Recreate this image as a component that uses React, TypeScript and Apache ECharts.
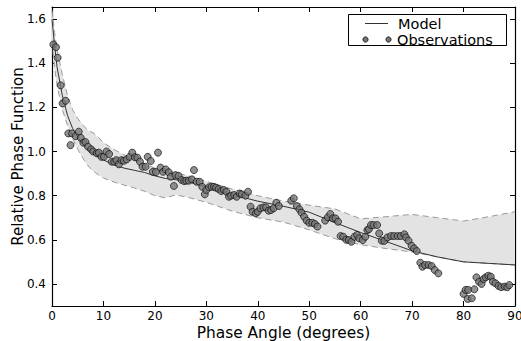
import React, { useEffect, useRef } from "react";
import * as echarts from "echarts";

const obsX = [0.26,0.78,1.1,1.7,2.07,2.65,3.17,3.6,3.9,4.6,5.2,5.6,6.1,6.5,7.0,7.6,8.0,8.7,9.1,9.6,10.1,10.6,11.1,11.6,12.1,12.5,13.0,13.5,13.96,14.5,15.1,15.6,16.1,16.6,17.1,17.6,18.2,18.6,19.2,19.6,20.2,20.6,21.1,21.6,22.1,22.7,23.1,23.7,24.0,24.6,25.2,25.7,26.1,26.6,27.2,27.6,28.1,28.7,29.2,29.7,30.0,30.5,31.0,31.5,31.9,32.4,32.9,33.4,33.9,34.4,34.8,35.4,35.9,36.5,36.9,37.6,38.1,38.6,39.0,39.6,40.0,40.5,41.1,41.6,42.1,42.6,43.1,43.6,44.1,46.5,47.0,47.6,48.1,48.5,49.0,49.5,50.0,50.6,51.1,51.6,53.1,53.6,54.1,54.6,55.1,55.6,56.1,56.6,57.2,57.7,58.2,58.8,59.3,59.7,60.4,60.9,61.3,61.6,62.0,62.5,63.2,63.6,64.1,64.6,65.2,65.9,66.5,67.2,67.8,68.5,68.8,69.3,69.9,70.4,70.9,71.6,72.0,72.5,73.2,73.8,74.4,75.1,80.0,80.4,80.8,80.9,81.6,82.1,82.5,83.0,83.5,83.9,84.3,84.8,85.3,85.7,86.2,86.8,87.3,88.0,88.5,88.9];
const obsY = [1.485,1.473,1.425,1.30,1.218,1.23,1.082,1.029,1.082,1.07,1.09,1.062,1.04,1.043,1.022,1.01,1.0,0.992,0.995,0.976,0.976,1.0,0.989,0.954,0.954,0.961,0.942,0.961,0.958,0.964,0.976,0.995,0.974,0.972,0.954,0.931,0.931,0.976,0.957,0.908,0.907,0.995,0.927,0.908,0.919,0.906,0.886,0.844,0.893,0.890,0.871,0.866,0.868,0.868,0.874,0.916,0.863,0.863,0.840,0.806,0.826,0.838,0.840,0.840,0.836,0.830,0.821,0.826,0.818,0.795,0.800,0.803,0.795,0.81,0.806,0.80,0.818,0.75,0.727,0.72,0.727,0.743,0.747,0.747,0.732,0.735,0.743,0.768,0.753,0.777,0.788,0.753,0.738,0.723,0.705,0.687,0.677,0.677,0.672,0.66,0.687,0.702,0.717,0.697,0.697,0.682,0.617,0.614,0.60,0.599,0.591,0.614,0.622,0.607,0.599,0.614,0.644,0.648,0.667,0.667,0.667,0.629,0.596,0.595,0.611,0.617,0.617,0.617,0.617,0.625,0.611,0.596,0.573,0.561,0.549,0.496,0.478,0.486,0.486,0.481,0.463,0.448,0.355,0.373,0.332,0.373,0.335,0.376,0.43,0.41,0.40,0.422,0.43,0.437,0.433,0.41,0.403,0.391,0.385,0.388,0.385,0.395];

const gridX = [0,0.5,1,2,3,4,5,6,7,8,9,10,12,14,16,18,20,22,24,26,30,35,40,45,50,55,60,65,70,75,80,85,90];
const modelY = [1.60,1.48,1.38,1.255,1.165,1.105,1.065,1.035,1.01,0.99,0.975,0.962,0.94,0.925,0.915,0.905,0.89,0.878,0.872,0.866,0.84,0.805,0.775,0.752,0.725,0.678,0.633,0.592,0.55,0.522,0.50,0.493,0.486];
const upperY = [1.64,1.54,1.46,1.35,1.255,1.19,1.15,1.12,1.095,1.085,1.065,1.04,1.01,0.985,0.965,0.945,0.925,0.912,0.903,0.893,0.865,0.83,0.80,0.775,0.757,0.74,0.695,0.705,0.715,0.70,0.685,0.705,0.727];
const lowerY = [1.50,1.38,1.30,1.19,1.12,1.06,1.01,0.97,0.935,0.912,0.895,0.88,0.862,0.848,0.835,0.82,0.80,0.79,0.803,0.795,0.77,0.73,0.70,0.68,0.645,0.605,0.578,0.56,0.545,0.522,0.50,0.493,0.486];

const xTicks = [0,10,20,30,40,50,60,70,80,90];
const yTicks = [0.4,0.6,0.8,1.0,1.2,1.4,1.6];

const FONT = "DejaVu Sans";

export default function App() {
  const ref = useRef<HTMLDivElement>(null);
  useEffect(() => {
    if (!ref.current) return;
    const chart = echarts.init(ref.current, null, { renderer: "svg" });
    const pairs = (xs: number[], ys: number[]) => xs.map((x, i) => [x, ys[i]]);
    const axisCommon = {
      axisLine: { show: true, onZero: false, lineStyle: { color: "#000", width: 1.2 } },
      axisTick: { show: true, inside: true, length: 5, lineStyle: { color: "#000", width: 1 } },
      splitLine: { show: false },
    };
    chart.setOption({
      animation: false,
      backgroundColor: "#fff",
      grid: { left: 52, right: 6, top: 7, bottom: 35, containLabel: false, outerBoundsMode: "none" },
      xAxis: [
        {
          type: "value", min: 0, max: 90, interval: 10, position: "bottom",
          ...axisCommon,
          axisTick: { ...axisCommon.axisTick, customValues: xTicks },
          axisLabel: { color: "#000", fontFamily: FONT, fontSize: 12, margin: 4, customValues: xTicks, hideOverlap: false },
          name: "Phase Angle (degrees)", nameLocation: "middle", nameGap: 19, nameMoveOverlap: false,
          nameTextStyle: { color: "#000", fontFamily: FONT, fontSize: 15.4 },
        },
        {
          type: "value", min: 0, max: 90, interval: 10, position: "top",
          ...axisCommon, axisLabel: { show: false },
        },
      ],
      yAxis: [
        {
          type: "value", min: 0.3, max: 1.655, position: "left",
          ...axisCommon,
          axisTick: { ...axisCommon.axisTick, customValues: yTicks },
          axisLabel: {
            color: "#000", fontFamily: FONT, fontSize: 12, margin: 6,
            customValues: yTicks, formatter: (v: number) => v.toFixed(1),
          },
          name: "Relative Phase Function", nameLocation: "middle", nameGap: 27, nameMoveOverlap: false,
          nameTextStyle: { color: "#000", fontFamily: FONT, fontSize: 15 },
        },
        {
          type: "value", min: 0.3, max: 1.655, position: "right",
          ...axisCommon,
          axisTick: { ...axisCommon.axisTick, customValues: yTicks },
          axisLabel: { show: false },
        },
      ],
      series: [
        {
          type: "custom",
          data: [[0, 1]],
          z: 1,
          silent: true,
          renderItem: (params: any, api: any) => {
            const pts: number[][] = [];
            gridX.forEach((x, i) => pts.push(api.coord([x, upperY[i]])));
            for (let i = gridX.length - 1; i >= 0; i--) pts.push(api.coord([gridX[i], lowerY[i]]));
            return { type: "polygon", shape: { points: pts }, style: { fill: "#e3e3e3", stroke: "none" } };
          },
        },
        {
          type: "line", data: pairs(gridX, upperY), showSymbol: false, z: 2, silent: true,
          lineStyle: { color: "#999", width: 1, type: [6, 4] },
        },
        {
          type: "line", data: pairs(gridX, lowerY), showSymbol: false, z: 2, silent: true,
          lineStyle: { color: "#999", width: 1, type: [6, 4] },
        },
        {
          name: "Model", type: "line", data: pairs(gridX, modelY), showSymbol: false, z: 3,
          lineStyle: { color: "#333", width: 1 },
        },
        {
          name: "Observations", type: "scatter", data: pairs(obsX, obsY), z: 4,
          symbol: "circle", symbolSize: 7,
          itemStyle: { color: "#767676", borderColor: "#000", borderWidth: 0.8 },
        },
      ],
      graphic: [
        { type: "rect", shape: { x: 348.5, y: 14.5, width: 158, height: 31 }, style: { fill: "#fff", stroke: "#000", lineWidth: 1 }, z: 10 },
        { type: "line", shape: { x1: 365, y1: 23.5, x2: 388, y2: 23.5 }, style: { stroke: "#333", lineWidth: 1 }, z: 11 },
        { type: "text", x: 398, y: 23.5, style: { text: "Model", font: `14.5px "${FONT}"`, fill: "#000", textVerticalAlign: "middle", verticalAlign: "middle" }, z: 11 },
        { type: "circle", shape: { cx: 365.5, cy: 39.5, r: 2.6 }, style: { fill: "#767676", stroke: "#000", lineWidth: 0.8 }, z: 11 },
        { type: "circle", shape: { cx: 388.5, cy: 39.5, r: 2.6 }, style: { fill: "#767676", stroke: "#000", lineWidth: 0.8 }, z: 11 },
        { type: "text", x: 397, y: 39.5, style: { text: "Observations", font: `14.5px "${FONT}"`, fill: "#000", textVerticalAlign: "middle", verticalAlign: "middle" }, z: 11 },
      ],
    });
    return () => chart.dispose();
  }, []);
  return <div ref={ref} style={{ width: 521, height: 341, position: "fixed", left: 0, top: 0 }} />;
}
